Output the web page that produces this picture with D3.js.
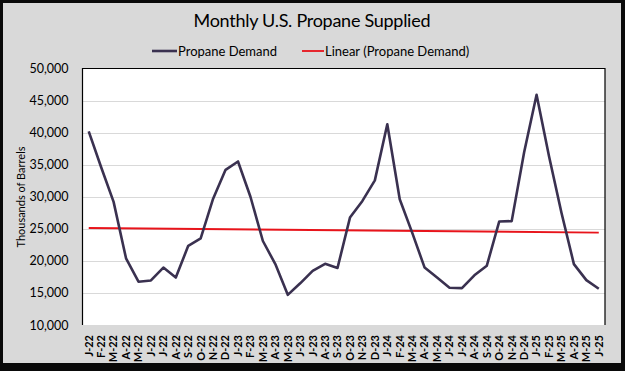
<!DOCTYPE html>
<html>
<head>
<meta charset="utf-8">
<script src="https://cdn.jsdelivr.net/npm/d3@7"></script>
<style>
  html, body { margin: 0; padding: 0; background: #000; }
  svg { display: block; }
</style>
</head>
<body>
<svg id="chart" width="625" height="371"></svg>
<script>
const months = ["J-22","F-22","M-22","A-22","M-22","J-22","J-22","A-22","S-22","O-22","N-22","D-22",
  "J-23","F-23","M-23","A-23","M-23","J-23","J-23","A-23","S-23","O-23","N-23","D-23",
  "J-24","F-24","M-24","A-24","M-24","J-24","J-24","A-24","S-24","O-24","N-24","D-24",
  "J-25","F-25","M-25","A-25","M-25","J-25"];
const demand = [40200,34600,29200,20400,16750,16950,18950,17400,22350,23500,29700,34200,
  35500,30000,23100,19500,14700,16500,18450,19550,18900,26750,29350,32550,
  41300,29600,24400,18950,17400,15800,15750,17750,19250,26150,26200,36950,
  45900,36300,27500,19500,17000,15650];
const yTicks = [10000,15000,20000,25000,30000,35000,40000,45000,50000];
const seriesNames = ["Propane Demand","Linear (Propane Demand)"];
const chartTitle = "Monthly U.S. Propane Supplied";
const yTitle = "Thousands of Barrels";

const svg = d3.select("#chart");
const W = 625, H = 371;
const font = "Lato, 'Open Sans', sans-serif";

// Frame: dark border with thicker bottom/right
svg.append("rect").attr("x",0).attr("y",0).attr("width",W).attr("height",H).attr("fill","#0a0a0a");
svg.append("rect").attr("x",3).attr("y",3).attr("width",W-3-4).attr("height",H-3-8).attr("fill","#d9d9d9");

const m = {left: 82.5, right: 605, top: 68.5, bottom: 325};
const x = d3.scaleBand().domain(d3.range(months.length)).range([m.left, m.right]);
const y = d3.scaleLinear().domain([10000, 50000]).range([m.bottom, m.top]);

// plot area
svg.append("rect").attr("x",m.left).attr("y",m.top).attr("width",m.right-m.left).attr("height",m.bottom-m.top).attr("fill","#fff");

// gridlines
svg.append("g").selectAll("line").data(yTicks.slice(1,-1)).join("line")
  .attr("x1",m.left).attr("x2",m.right)
  .attr("y1",d=>Math.round(y(d))+0.5).attr("y2",d=>Math.round(y(d))+0.5)
  .attr("stroke","#d9d9d9").attr("stroke-width",1);

// plot border (top, left, right)
svg.append("path")
  .attr("d",`M${m.left},${m.bottom}V${m.top}H${m.right}V${m.bottom}`)
  .attr("fill","none").attr("stroke","#000").attr("stroke-width",1.2);

// y axis
const yAxis = d3.axisLeft(y).tickValues(yTicks).tickSize(0).tickPadding(14)
  .tickFormat(d3.format(","));
const gy = svg.append("g").attr("transform",`translate(${m.left},0)`).call(yAxis);
gy.select(".domain").remove();
gy.selectAll("text").attr("font-family",font).attr("font-size","12.5px").attr("fill","#000");

// x axis
const xAxis = d3.axisBottom(x).tickSize(0).tickFormat(i=>months[i]);
const gx = svg.append("g").attr("transform",`translate(0,${m.bottom})`).call(xAxis);
gx.select(".domain").remove();
gx.selectAll("text")
  .attr("font-family",font).attr("font-size","11px").attr("font-weight","bold").attr("fill","#000")
  .attr("transform","rotate(-90)").attr("text-anchor","end")
  .attr("x",-10).attr("y",0).attr("dy","0.35em");

// trend line (least squares)
const n = demand.length;
const xs = d3.range(n);
const mx = d3.mean(xs), my = d3.mean(demand);
const slope = d3.sum(xs, i => (i-mx)*(demand[i]-my)) / d3.sum(xs, i => (i-mx)*(i-mx));
const icpt = my - slope*mx;
const cx = i => x(i) + x.bandwidth()/2;
svg.append("line")
  .attr("x1",cx(0)).attr("x2",cx(n-1))
  .attr("y1",y(icpt)).attr("y2",y(icpt+slope*(n-1)))
  .attr("stroke","#e8141b").attr("stroke-width",1.8);

// demand line
svg.append("path").datum(demand)
  .attr("d", d3.line().x((d,i)=>cx(i)).y(d=>y(d)))
  .attr("fill","none").attr("stroke","#3a3150").attr("stroke-width",2.6).attr("stroke-linejoin","round");

// title
svg.append("text").attr("x",312).attr("y",27).attr("text-anchor","middle")
  .attr("font-family",font).attr("font-size","18px").attr("fill","#000")
  .attr("textLength",237).attr("lengthAdjust","spacing").text(chartTitle);

// y title
svg.append("text").attr("transform","translate(25,197) rotate(-90)").attr("text-anchor","middle")
  .attr("font-family",font).attr("font-size","11px").attr("fill","#000").text(yTitle);

// legend
const legend = [{name:seriesNames[0], color:"#3a3150", x1:152, x2:177, w:2.6},
                {name:seriesNames[1], color:"#e8141b", x1:302, x2:324, w:1.8}];
const lg = svg.append("g");
legend.forEach(l => {
  lg.append("line").attr("x1",l.x1).attr("x2",l.x2).attr("y1",51).attr("y2",51)
    .attr("stroke",l.color).attr("stroke-width",l.w);
  lg.append("text").attr("x",l.x2+1).attr("y",51).attr("dy","0.35em")
    .attr("font-family",font).attr("font-size","13px").attr("fill","#000").text(l.name);
});
</script>
</body>
</html>
